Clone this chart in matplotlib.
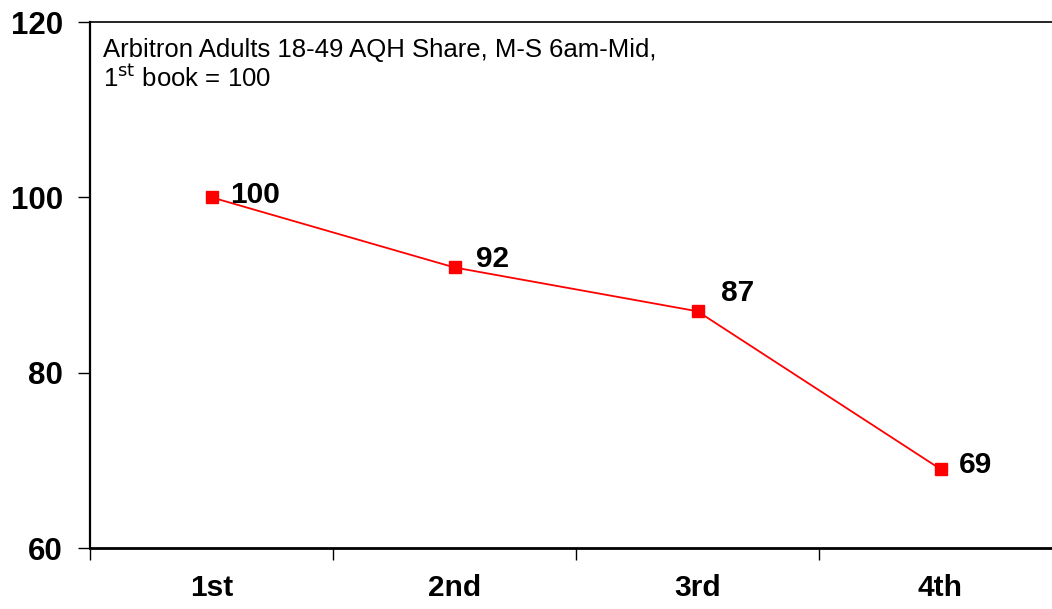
import matplotlib
matplotlib.use("Agg")
import matplotlib.pyplot as plt

categories = ["1st", "2nd", "3rd", "4th"]
values = [100, 92, 87, 69]
yticks = [60, 80, 100, 120]
label_offsets = [(13.7, -4.3), (15.8, 0.0), (17.2, 7.2), (13.0, -2.9)]

plt.rcParams['font.family'] = ['Liberation Sans', 'DejaVu Sans']

W, H = 1052, 609
fig = plt.figure(figsize=(W / 100, H / 100), dpi=100)
left, right, top, bottom = 90, 1062, 22, 548
ax = fig.add_axes([left / W, 1 - bottom / H, (right - left) / W, (bottom - top) / H])

x = list(range(len(categories)))
ax.plot(x, values, color="#ff0000", lw=1.3, marker="s", ms=8, mfc="#ff0000", mec="#ff0000", zorder=3)
for xi, v, off in zip(x, values, label_offsets):
    ax.annotate(str(v), (xi, v), xytext=off, textcoords="offset points",
                fontsize=21.5, fontweight="bold", ha="left", va="baseline")

ax.set_xlim(-0.5, len(categories) - 0.5)
ax.set_ylim(60, 120)
ax.set_yticks(yticks)
ax.set_yticklabels([str(t) for t in yticks], fontsize=22.5, fontweight="bold")
ax.set_xticks(x)
ax.set_xticklabels(categories, fontsize=21.5, fontweight="bold")
ax.tick_params(axis="x", length=0, pad=18.5)
ax.set_xticks([i - 0.5 for i in range(len(categories) + 1)], minor=True)
ax.tick_params(axis="x", which="minor", length=8.6, width=1, direction="out")
ax.tick_params(axis="y", length=8.6, width=1, direction="out", pad=11)

ax.spines["left"].set_linewidth(1.6)
ax.spines["bottom"].set_linewidth(2.0)
ax.spines["top"].set_linewidth(1.2)
ax.spines["right"].set_visible(False)

fig.text(103 / W, 1 - 57 / H, "Arbitron Adults 18-49 AQH Share, M-S 6am-Mid,",
         fontsize=18.5, va="baseline", ha="left")
fig.text(103 / W, 1 - 87 / H, "1$^{\\mathrm{st}}$ book = 100",
         fontsize=18.5, va="baseline", ha="left")

fig.savefig("out.png", dpi=100)
